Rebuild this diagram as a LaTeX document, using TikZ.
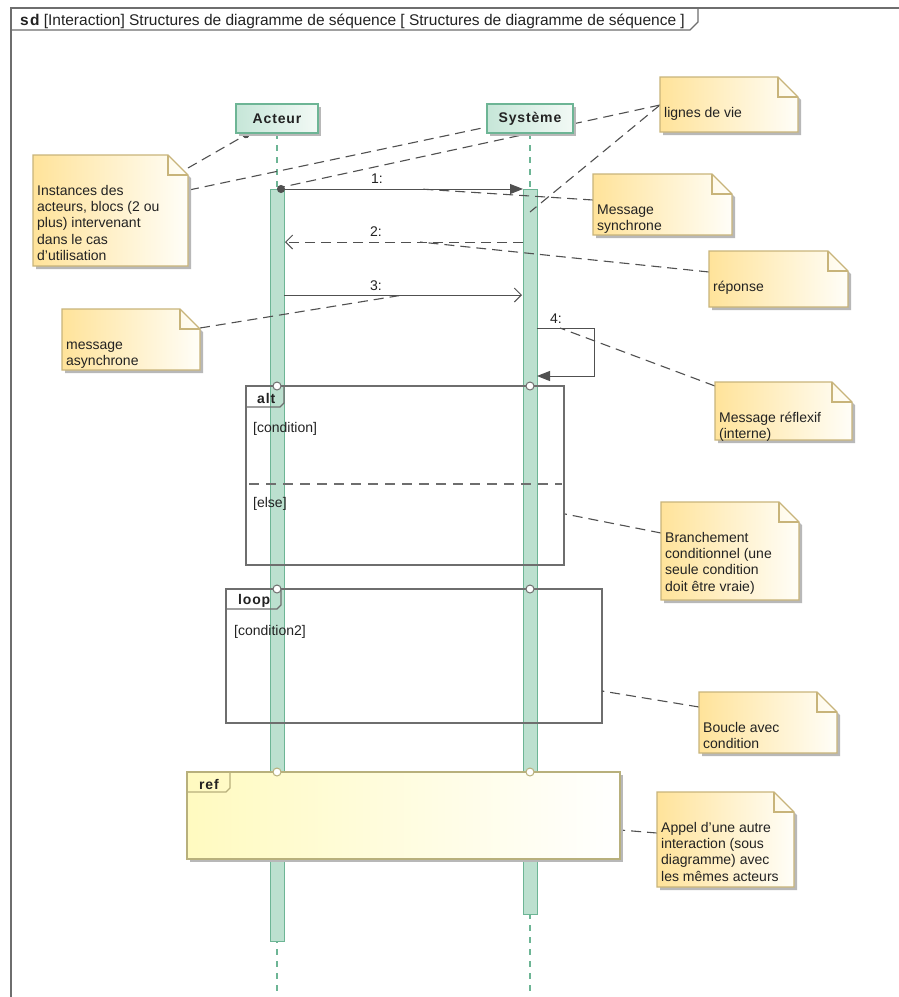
\documentclass[tikz,border=0pt]{standalone}
\usepackage{fontspec}
\setmainfont{Liberation Sans}
\usetikzlibrary{arrows.meta,shadows}
\definecolor{framec}{HTML}{6E6E6E}
\definecolor{linec}{HTML}{505050}
\definecolor{lifec}{HTML}{6DB595}
\definecolor{barfill}{HTML}{BCE0CF}
\definecolor{headL}{HTML}{C6E6D8}
\definecolor{headR}{HTML}{F2F9F5}
\definecolor{noteL}{HTML}{FFE39A}
\definecolor{noteR}{HTML}{FFFEF8}
\definecolor{noteB}{HTML}{C8B47A}
\definecolor{refL}{HTML}{FFFAC0}
\definecolor{refB}{HTML}{B8B07C}
\definecolor{shadowc}{HTML}{B8B8B8}
\definecolor{textc}{HTML}{222222}
\newcommand{\nfont}{\fontsize{14}{16.3}\selectfont}
\newcommand{\hfont}{\fontsize{15.5}{18}\selectfont}
\newcommand{\bfont}{\fontsize{14}{16}\selectfont\bfseries\addfontfeature{LetterSpace=6}}
\newcommand{\umlnote}[6]{%
  \fill[shadowc] ({#2+3},{#3+3}) -- ({#4-20+3},{#3+3}) -- ({#4+3},{#3+23}) -- ({#4+3},{#5+3}) -- ({#2+3},{#5+3}) -- cycle;
  \shadedraw[left color=noteL, right color=noteR, draw=noteB, line width=1.2pt] (#2,#3) -- ({#4-20},#3) -- (#4,{#3+20}) -- (#4,#5) -- (#2,#5) -- cycle;
  \draw[noteB, line width=1.2pt] ({#4-20},#3) -- ({#4-20},{#3+20}) -- (#4,{#3+20});
  \node[notetext] (#1) at ({#2+4},{#3+28.6}) {\strut #6};
}
\begin{document}
\begin{tikzpicture}[x=1pt,y=-1pt,
  notetext/.style={anchor=north west, inner sep=0pt, align=left, font=\nfont, text=textc},
  conn/.style={draw=linec, line width=1.1pt, dash pattern=on 10pt off 6pt},
  msg/.style={draw=linec, line width=1pt},
  lifeline/.style={draw=lifec, line width=1.2pt, dash pattern=on 6pt off 6pt},
  actbar/.style={draw=lifec, fill=barfill, line width=1.2pt},
  headbox/.style={draw=lifec, line width=1.2pt, left color=headL, right color=headR,
     minimum height=29pt, inner sep=0pt, font=\bfont, text=textc,
     general shadow={fill=shadowc, shadow xshift=3pt, shadow yshift=-3pt}},
  frameline/.style={draw=framec, line width=1.2pt},
  lbl/.style={font=\nfont, text=textc, inner sep=0pt},
  tablbl/.style={font=\bfont, text=textc, inner sep=0pt, anchor=base west},
  gate/.style={circle, draw=framec, fill=white, line width=1pt, inner sep=0pt, minimum size=8pt}
]
\useasboundingbox (0,0) rectangle (899,997);
\fill[white] (0,0) rectangle (899,997);

% outer frame and header
\draw[frameline] (11,997) -- (11,8) -- (899,8);
\draw[frameline] (11,30) -- (690,30) -- (698,22) -- (698,8);
\node[lbl, font=\hfont, anchor=base west] (hdr) at (20,25) {{\bfseries\addfontfeature{LetterSpace=8}sd} [Interaction] Structures de diagramme de séquence [ Structures de diagramme de séquence ]};

% lifelines
\coordinate (laTop) at (277,133);
\coordinate (lsTop) at (530,133);
\coordinate (laBot) at (277,997);
\coordinate (lsBot) at (530,997);
\draw[lifeline] (laTop) -- (laBot);
\draw[lifeline] (lsTop) -- (lsBot);

% activation bars
\node[actbar, anchor=north west, minimum width=14pt, minimum height=752pt, inner sep=0pt] (barA) at (270,189) {};
\node[actbar, anchor=north west, minimum width=14pt, minimum height=725pt, inner sep=0pt] (barS) at (523,189) {};

% alt frame
\draw[frameline] (246,386) rectangle (564,565);
\draw[frameline] (246,407) -- (280,407) -- (284,403) -- (284,386);
\node[tablbl] (alt) at (257,403) {alt};
\draw[draw=framec, line width=1.1pt, dash pattern=on 10pt off 7pt] (249,484) -- (562,484);
\node[lbl, anchor=base west] (cond1) at (253,432) {[condition]};
\node[lbl, anchor=base west] (else) at (253,507) {[else]};

% loop frame
\draw[frameline] (226,589) rectangle (602,723);
\draw[frameline] (226,609) -- (277,609) -- (281,605) -- (281,589);
\node[tablbl] (loop) at (238,604) {loop};
\node[lbl, anchor=base west] (cond2) at (234,635) {[condition2]};

% messages
\coordinate (m1a) at (277,189);
\coordinate (m1b) at (523,189);
\draw[msg, {Circle[length=8pt]}-{Triangle[length=13pt,width=10pt]}] (m1a) -- (m1b);
\node[lbl, anchor=base] (l1) at (377,183) {1:};
\coordinate (m2a) at (523,242);
\coordinate (m2b) at (285,242);
\draw[msg, dash pattern=on 10pt off 6pt, -{Straight Barb[length=7pt,width=14pt]}] (m2a) -- (m2b);
\node[lbl, anchor=base] (l2) at (376,236) {2:};
\coordinate (m3a) at (284,295);
\coordinate (m3b) at (522,295);
\draw[msg, -{Straight Barb[length=7pt,width=14pt]}] (m3a) -- (m3b);
\node[lbl, anchor=base] (l3) at (376,290) {3:};
\coordinate (m4a) at (537,328);
\coordinate (m4b) at (537,376);
\draw[msg, -{Triangle[length=13pt,width=10pt]}] (m4a) -- (594,328) -- (594,376) -- (m4b);
\node[lbl, anchor=base] (l4) at (556,323) {4:};

% connector end points
\coordinate (pAhead) at (249,133);
\coordinate (pShead) at (487,127);
\coordinate (pAlife) at (278,188);
\coordinate (pSlife) at (530,212);
\coordinate (pM1) at (420,189);
\coordinate (pM2) at (420,242);
\coordinate (pM3) at (403,295);
\coordinate (pM4) at (560,328);
\coordinate (pAlt) at (565,514);
\coordinate (pLoop) at (602,691);
\coordinate (pRef) at (620,830);
\coordinate (nA1) at (188,168);
\coordinate (nA2) at (189,190);
\coordinate (nL) at (660,105);
\coordinate (nMS) at (593,200);
\coordinate (nR) at (709,272);
\coordinate (nMA) at (200,328);
\coordinate (nMR) at (715,386);
\coordinate (nB) at (661,533);
\coordinate (nBC) at (699,707);
\coordinate (nAP) at (657,833);

\draw[conn, -{Circle[length=7pt]}] (nA1) -- (pAhead);
\draw[conn] (nA2) -- (pShead);
\draw[conn] (nL) -- (pAlife);
\draw[conn] (nL) -- (pSlife);
\draw[conn] (nMS) -- (pM1);
\draw[conn] (nR) -- (pM2);
\draw[conn] (nMA) -- (pM3);
\draw[conn] (nMR) -- (pM4);
\draw[conn] (nB) -- (pAlt);
\draw[conn] (nBC) -- (pLoop);
\draw[conn] (nAP) -- (pRef);

% heads
\node[headbox, minimum width=82pt] (acteur) at (277,118.5) {Acteur};
\node[headbox, minimum width=86pt] (systeme) at (530,118.5) {Système};

% ref frame
\fill[shadowc] (190,775) rectangle (623,862);
\shadedraw[left color=refL, right color=white, draw=refB, line width=1.2pt] (187,772) rectangle (620,859);
\draw[draw=refB, line width=1.2pt] (187,792) -- (226,792) -- (230,788) -- (230,772);
\node[tablbl] (ref) at (199,789) {ref};

% gates
\node[gate] (g1) at (277,386) {};
\node[gate] (g2) at (530,386) {};
\node[gate] (g3) at (277,589) {};
\node[gate] (g4) at (530,589) {};
\node[gate, draw=refB] (g5) at (277,772) {};
\node[gate, draw=refB] (g6) at (530,772) {};

% notes
\umlnote{noteA}{33}{155}{188}{266}{Instances des\\acteurs, blocs (2 ou\\plus) intervenant\\dans le cas\\d'utilisation}
\umlnote{noteL}{660}{77}{798}{132}{lignes de vie}
\umlnote{noteMS}{593}{174}{732}{235}{Message\\synchrone}
\umlnote{noteR}{709}{251}{848}{307}{réponse}
\umlnote{noteMA}{62}{309}{200}{370}{message\\asynchrone}
\umlnote{noteMR}{715}{382}{852}{440}{Message réflexif\\(interne)}
\umlnote{noteB}{661}{502}{799}{600}{Branchement\\conditionnel (une\\seule condition\\doit être vraie)}
\umlnote{noteBC}{699}{692}{837}{753}{Boucle avec\\condition}
\umlnote{noteAP}{657}{792}{794}{887}{Appel d'une autre\\interaction (sous\\diagramme) avec\\les mêmes acteurs}
\end{tikzpicture}
\end{document}
